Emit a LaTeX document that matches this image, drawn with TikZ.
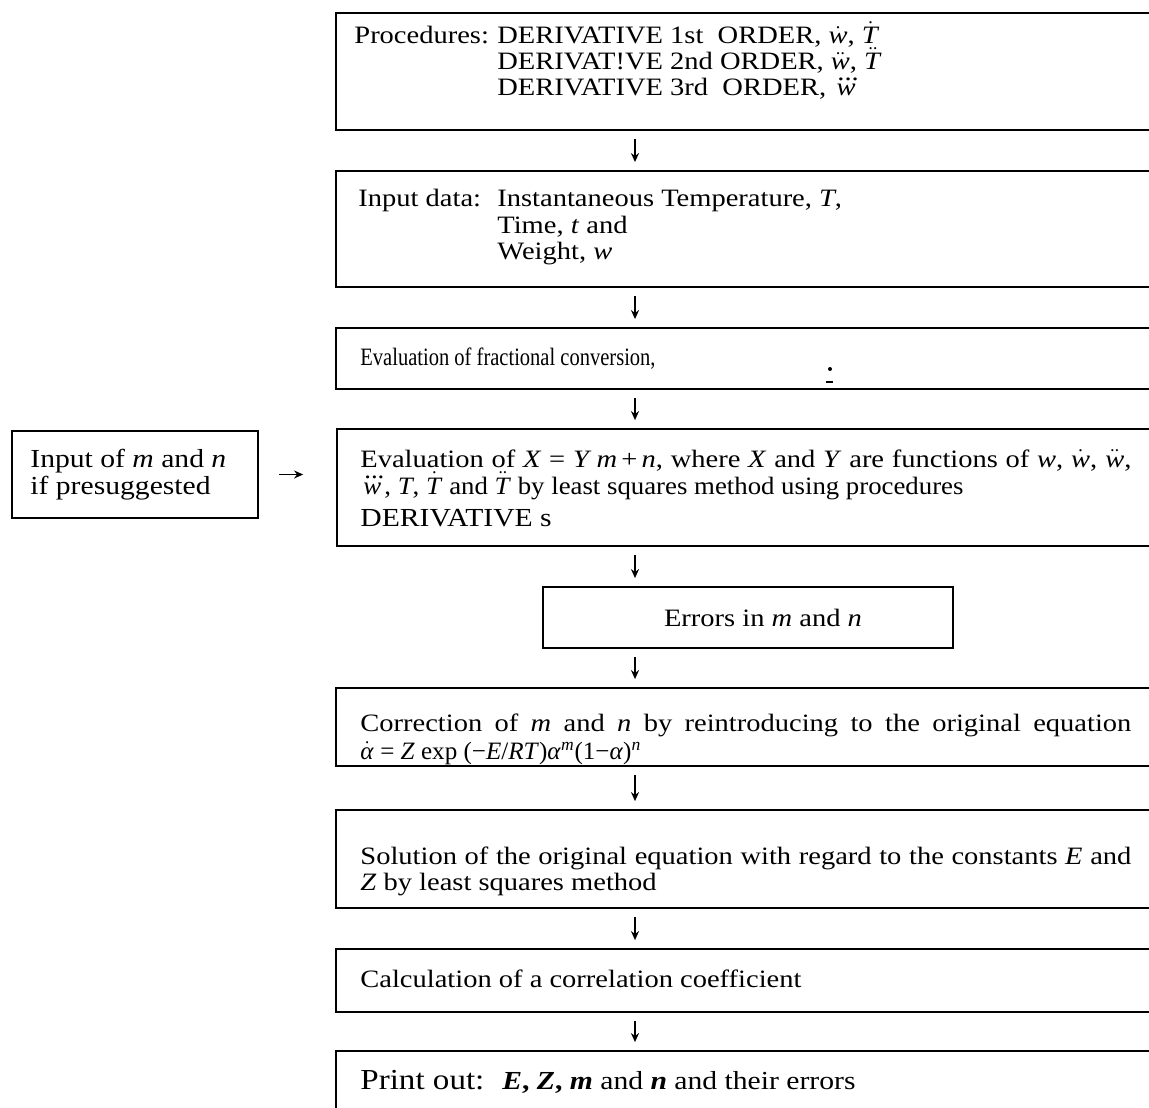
\documentclass[tikz,border=0pt]{standalone}
\usepackage{amsmath}
\usepackage{graphicx}
\usepackage{fontspec}
\setmainfont{Liberation Serif}[FakeStretch=1.14]
\usetikzlibrary{arrows.meta,fit}

% dotted time derivatives of the variables
\newcommand\wdot{\ensuremath{\dot{\mbox{\textit{w}}}}}
\newcommand\wddot{\ensuremath{\ddot{\mbox{\textit{w}}}}}
\newcommand\wdddot{\ensuremath{\dddot{\mbox{\textit{w}}}}}
\newcommand\Tdot{\ensuremath{\dot{\mbox{\textit{T}}}}}
\newcommand\Tddot{\ensuremath{\ddot{\mbox{\textit{T}}}}}
\newcommand\adot{\ensuremath{\dot{\mbox{\textit{α}}}}}

\begin{document}
\begin{tikzpicture}[x=0.5pt,y=-0.5pt,
  box/.style={draw,line width=0.9pt,inner sep=0pt,rectangle},
  txt/.style={font=\fontsize{12.5}{13}\selectfont,inner sep=0pt,anchor=base west},
  bigtxt/.style={txt,font=\fontsize{13}{14}\selectfont},
  arr/.style={line width=0.8pt,-{Stealth[length=4.5pt,width=4pt]},shorten <=4pt,shorten >=4pt}]

\useasboundingbox (0,0) rectangle (1149,1107);
\fill[white] (0,0) rectangle (1149,1107);
\clip (0,0) rectangle (1149,1107);

% main column of boxes (they run past the right edge of the sheet)
\node[box,fit={(336,13) (1175,130)}]   (b1) {};
\node[box,fit={(336,171) (1175,287)}]  (b2) {};
\node[box,fit={(336,328) (1175,389)}]  (b3) {};
\node[box,fit={(337,429) (1175,546)}]  (b4) {};
\node[box,fit={(543,587) (953,648)}]   (b5) {};
\node[box,fit={(336,688) (1175,766)}]  (b6) {};
\node[box,fit={(336,810) (1175,908)}]  (b7) {};
\node[box,fit={(336,949) (1175,1012)}] (b8) {};
\node[box,fit={(336,1051) (1175,1140)}] (b9) {};

% side input box
\node[box,fit={(12,431) (258,518)}] (lb) {};

% texts
\node[txt] (t1a) at (354,44) {Procedures:};
\node[txt] (t1b) at (497,44) {DERIVATIVE 1st\ \ ORDER, \wdot, \Tdot};
\node[txt] (t1c) at (497,70) {DERIVAT!VE 2nd ORDER, \wddot, \Tddot};
\node[txt] (t1d) at (497,96) {DERIVATIVE 3rd\ \ ORDER, \wdddot};

\node[txt] (t2a) at (358,206) {Input data:};
\node[txt] (t2b) at (497,206) {Instantaneous Temperature, \textit{T},};
\node[txt] (t2c) at (497,234) {Time, \textit{t} and};
\node[txt] (t2d) at (497,259) {Weight, \textit{w}};

\node[txt] (t3) at (360,365) {\scalebox{0.72}[1]{Evaluation of fractional conversion,}};
\fill (830,369) circle (1pt);
\draw[line width=0.8pt] (826,382) -- (833,382);

\node[txt] (t4a) at (360,467) {\makebox[385.5pt][s]{Evaluation of \textit{X} = \textit{Y m}\,+\,\textit{n}, where \textit{X} and \textit{Y} are functions of \textit{w}, \wdot, \wddot,}};
\node[txt] (t4b) at (360,494) {\scalebox{0.94}[1]{\wdddot, \textit{T}, \Tdot{} and \Tddot{} by least squares method using procedures}};
\node[bigtxt] (t4c) at (360,526) {DERIVATIVE s};

\node[bigtxt] (tla) at (30,467) {Input of \textit{m} and \textit{n}};
\node[bigtxt] (tlb) at (30,494) {if presuggested};

\node[txt,anchor=center] (t5) at (763,618) {Errors in \textit{m} and \textit{n}};

\node[txt] (t6a) at (360,731) {\makebox[385.5pt][s]{Correction of \textit{m} and \textit{n} by reintroducing to the original equation}};
\node[txt] (t6b) at (360,759) {\scalebox{0.88}[1]{\adot{} = \textit{Z} exp (−\textit{E}/\textit{RT})\textit{α}\textsuperscript{\textit{m}}(1−\textit{α})\textsuperscript{\textit{n}}}};

\node[txt] (t7a) at (360,864) {\makebox[385.5pt][s]{Solution of the original equation with regard to the constants \textit{E} and}};
\node[txt] (t7b) at (360,890) {\textit{Z} by least squares method};

\node[txt] (t8) at (360,987) {Calculation of a correlation coefficient};

\node[txt,font=\fontsize{14.5}{15}\selectfont] (t9a) at (360,1089) {Print out:};
\node[bigtxt] (t9b) at (502,1089) {\textbf{\textit{E}, \textit{Z}, \textit{m}} and \textbf{\textit{n}} and their errors};

% flow arrows
\coordinate (ax) at (635,0);
\draw[arr] (b1.south -| ax) -- (b2.north -| ax);
\draw[arr] (b2.south -| ax) -- (b3.north -| ax);
\draw[arr] (b3.south -| ax) -- (b4.north -| ax);
\draw[arr] (b4.south -| ax) -- (b5.north -| ax);
\draw[arr] (b5.south -| ax) -- (b6.north -| ax);
\draw[arr] (b6.south -| ax) -- (b7.north -| ax);
\draw[arr] (b7.south -| ax) -- (b8.north -| ax);
\draw[arr] (b8.south -| ax) -- (b9.north -| ax);
\draw[arr,shorten <=10pt,shorten >=16.5pt] (lb.east) -- (b4.west |- lb.east);
\end{tikzpicture}
\end{document}
